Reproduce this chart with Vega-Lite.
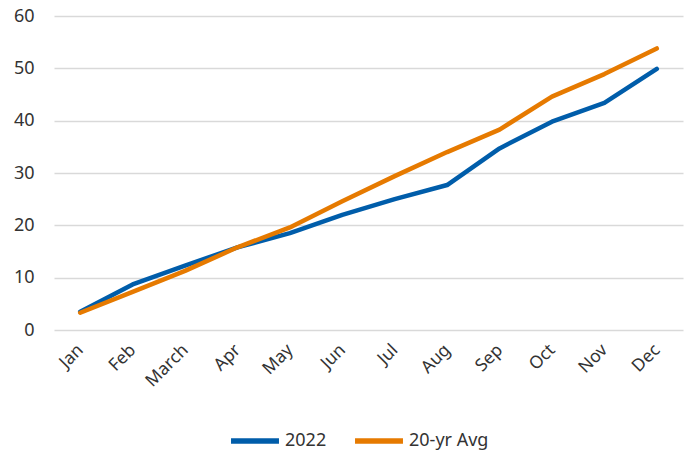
{
  "$schema": "https://vega.github.io/schema/vega-lite/v6.json",
  "width": 629,
  "height": 314,
  "autosize": {"type": "none"},
  "padding": {"left": 54, "top": 16, "right": 6, "bottom": 123},
  "background": "white",
  "config": {"view": {"stroke": null}, "font": "Noto Sans"},
  "data": {
    "values": [
      {"month": "Jan", "series": "2022", "value": 3.5},
      {"month": "Feb", "series": "2022", "value": 8.7},
      {"month": "March", "series": "2022", "value": 12.3},
      {"month": "Apr", "series": "2022", "value": 15.8},
      {"month": "May", "series": "2022", "value": 18.5},
      {"month": "Jun", "series": "2022", "value": 22.0},
      {"month": "Jul", "series": "2022", "value": 25.0},
      {"month": "Aug", "series": "2022", "value": 27.7},
      {"month": "Sep", "series": "2022", "value": 34.7},
      {"month": "Oct", "series": "2022", "value": 39.8},
      {"month": "Nov", "series": "2022", "value": 43.4},
      {"month": "Dec", "series": "2022", "value": 49.9},
      {"month": "Jan", "series": "20-yr Avg", "value": 3.3},
      {"month": "Feb", "series": "20-yr Avg", "value": 7.3},
      {"month": "March", "series": "20-yr Avg", "value": 11.3},
      {"month": "Apr", "series": "20-yr Avg", "value": 15.8},
      {"month": "May", "series": "20-yr Avg", "value": 19.6},
      {"month": "Jun", "series": "20-yr Avg", "value": 24.6},
      {"month": "Jul", "series": "20-yr Avg", "value": 29.4},
      {"month": "Aug", "series": "20-yr Avg", "value": 34.0},
      {"month": "Sep", "series": "20-yr Avg", "value": 38.3},
      {"month": "Oct", "series": "20-yr Avg", "value": 44.6},
      {"month": "Nov", "series": "20-yr Avg", "value": 48.9},
      {"month": "Dec", "series": "20-yr Avg", "value": 53.8}
    ]
  },
  "mark": {"type": "line", "strokeWidth": 4.5, "strokeCap": "round", "strokeJoin": "round"},
  "encoding": {
    "x": {
      "field": "month",
      "type": "ordinal",
      "sort": ["Jan", "Feb", "March", "Apr", "May", "Jun", "Jul", "Aug", "Sep", "Oct", "Nov", "Dec"],
      "scale": {"type": "point", "padding": 0.5},
      "axis": {
        "title": null,
        "labelAngle": -45,
        "labelAlign": "right",
        "labelBaseline": "middle",
        "labelPadding": 17,
        "ticks": false,
        "domain": false,
        "grid": false,
        "labelFontSize": 17.5,
        "labelColor": "#333333"
      }
    },
    "y": {
      "field": "value",
      "type": "quantitative",
      "scale": {"domain": [0, 60]},
      "axis": {
        "title": null,
        "values": [0, 10, 20, 30, 40, 50, 60],
        "ticks": false,
        "domain": false,
        "gridColor": "#d9d9d9",
        "gridWidth": 1.3,
        "labelFontSize": 18,
        "labelPadding": 20,
        "labelColor": "#333333"
      }
    },
    "color": {
      "field": "series",
      "type": "nominal",
      "sort": ["2022", "20-yr Avg"],
      "scale": {"domain": ["2022", "20-yr Avg"], "range": ["#005DAA", "#E67A00"]},
      "legend": {
        "title": null,
        "orient": "none",
        "legendX": 174,
        "legendY": 398,
        "direction": "horizontal",
        "symbolType": "stroke",
        "symbolSize": 2300,
        "symbolStrokeWidth": 5.5,
        "labelFontSize": 18,
        "labelColor": "#333333",
        "columnPadding": 17,
        "labelOffset": 3
      }
    }
  }
}
